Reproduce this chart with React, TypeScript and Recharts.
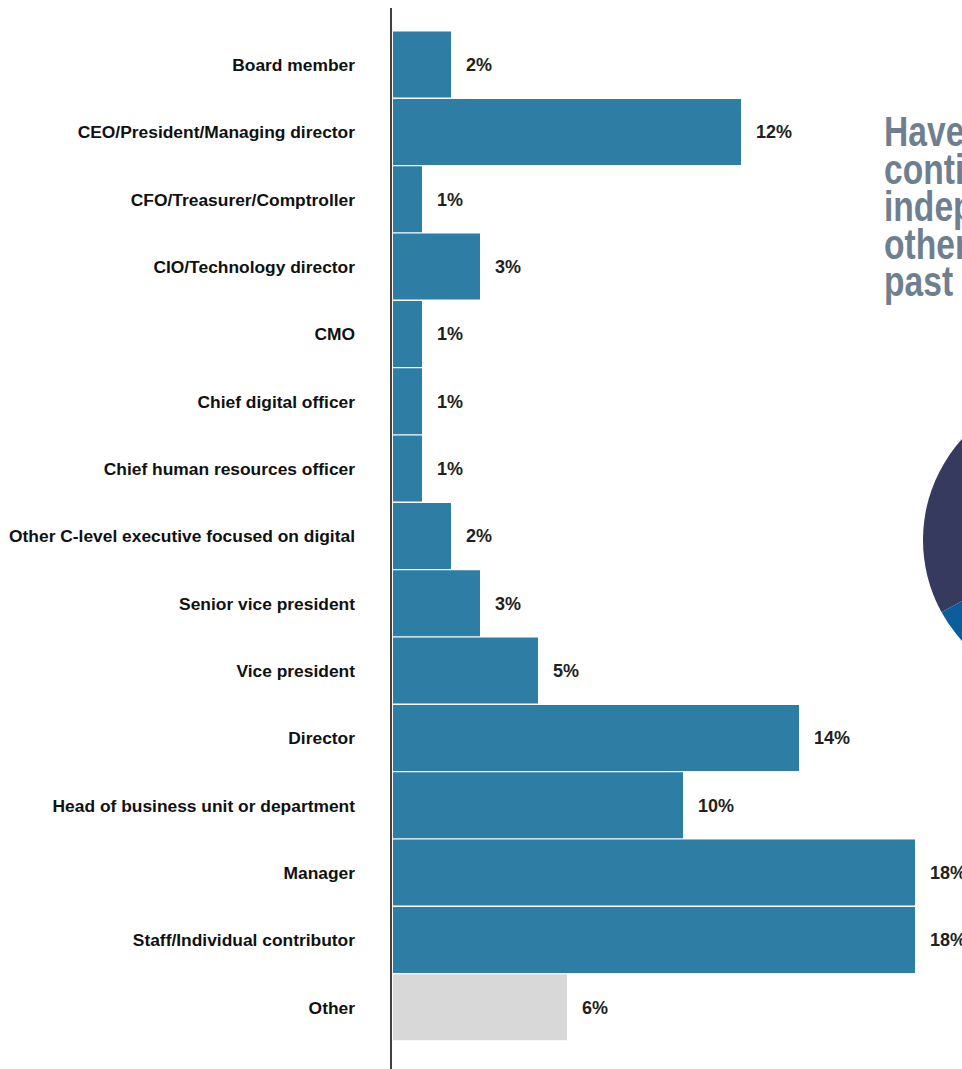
import type { ReactElement } from "react";
import { BarChart, Bar, XAxis, YAxis, Cell, LabelList, PieChart, Pie } from "recharts";

// Roles of respondents (top to bottom)
const roles = [
  "Board member",
  "CEO/President/Managing director",
  "CFO/Treasurer/Comptroller",
  "CIO/Technology director",
  "CMO",
  "Chief digital officer",
  "Chief human resources officer",
  "Other C-level executive focused on digital",
  "Senior vice president",
  "Vice president",
  "Director",
  "Head of business unit or department",
  "Manager",
  "Staff/Individual contributor",
  "Other",
];

// Share of respondents, in %
const shares = [2, 12, 1, 3, 1, 1, 1, 2, 3, 5, 14, 10, 18, 18, 6];

// Partly visible pie on the right edge
const pieNames = ["Yes", "No"];
const pieValues = [33, 67];

// Partly visible title on the right edge
const titleLines = [
  "Have you",
  "continued to work",
  "independently or for",
  "other companies in the",
  "past two years?",
];

const FONT = '"Liberation Sans", Arial, Helvetica, sans-serif';
const BLUE = "#2d7da5";
const GREY = "#d8d8d8";
const PIE_COLORS = ["#363a5f", "#0b5e9c"];

const rows = roles.map((role, i) => ({ role, share: shares[i] }));
const pieRows = pieNames.map((name, i) => ({ name, value: pieValues[i] }));

export default function App(): ReactElement {
  return (
    <div
      style={{
        position: "absolute",
        left: 0,
        top: 0,
        width: 962,
        height: 1069,
        overflow: "hidden",
        background: "#fff",
        fontFamily: FONT,
      }}
    >
      <div style={{ position: "absolute", left: 0, top: 0 }}>
        <BarChart
          width={962}
          height={1069}
          data={rows}
          layout="vertical"
          margin={{ top: 8, right: 47, bottom: 0, left: 0 }}
          barCategoryGap={0.6}
        >
          <XAxis type="number" domain={[0, 18]} hide padding={{ left: 2, right: 0 }} />
          <YAxis
            type="category"
            dataKey="role"
            width={391}
            padding={{ top: 23, bottom: 28 }}
            axisLine={{ stroke: "#000", strokeWidth: 1.5 }}
            tickLine={false}
            tickSize={0}
            tickMargin={36}
            interval={0}
            tick={{ fill: "#111", fontSize: 17.4, fontWeight: 700, fontFamily: FONT }}
          />
          <Bar dataKey="share" isAnimationActive={false}>
            {rows.map((r) => (
              <Cell key={r.role} fill={r.role === "Other" ? GREY : BLUE} />
            ))}
            <LabelList
              dataKey="share"
              position="right"
              offset={15}
              formatter={(v: number) => `${v}%`}
              style={{ fill: "#231f20", fontSize: 18, fontWeight: 700, fontFamily: FONT }}
            />
          </Bar>
        </BarChart>
      </div>

      <div
        style={{
          position: "absolute",
          left: 884,
          top: 113,
          whiteSpace: "nowrap",
          color: "#6f7f8f",
          fontFamily: FONT,
          fontWeight: 700,
          fontSize: 42,
          lineHeight: "37.5px",
          transform: "scaleX(0.8)",
          transformOrigin: "left top",
        }}
      >
        {titleLines.map((line) => (
          <div key={line}>{line}</div>
        ))}
      </div>

      <div style={{ position: "absolute", left: 923, top: 390 }}>
        <PieChart width={300} height={300} margin={{ top: 0, right: 0, bottom: 0, left: 0 }}>
          <Pie
            data={pieRows}
            dataKey="value"
            nameKey="name"
            cx={150}
            cy={150}
            outerRadius={150}
            startAngle={90}
            endAngle={450}
            stroke="none"
            isAnimationActive={false}
          >
            {pieRows.map((_, i) => (
              <Cell key={i} fill={PIE_COLORS[i % PIE_COLORS.length]} />
            ))}
          </Pie>
        </PieChart>
      </div>
    </div>
  );
}
